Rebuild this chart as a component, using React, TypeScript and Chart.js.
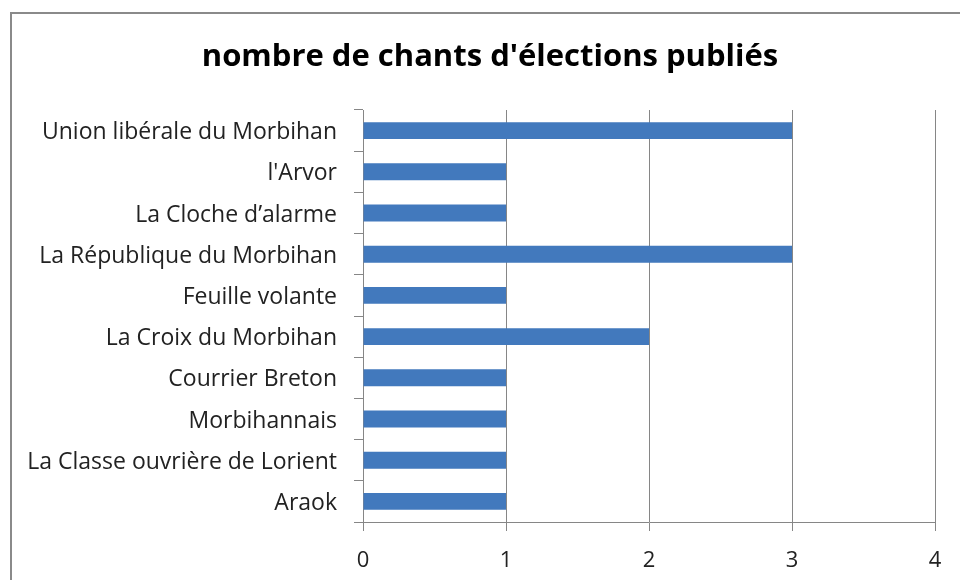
import React, { useEffect, useRef } from "react";
import { Chart, registerables } from "chart.js";

Chart.register(...registerables);

const categories = [
  "Union libérale du Morbihan",
  "l'Arvor",
  "La Cloche d’alarme",
  "La République du Morbihan",
  "Feuille volante",
  "La Croix du Morbihan",
  "Courrier Breton",
  "Morbihannais",
  "La Classe ouvrière de Lorient",
  "Araok",
];
const values = [3, 1, 1, 3, 1, 2, 1, 1, 1, 1];
const titleText = "nombre de chants d'élections publiés";
const xMin = 0;
const xMax = 4;

const titlePlugin = {
  id: "centeredTitle",
  afterDraw(chart: any) {
    const ctx = chart.ctx;
    ctx.save();
    ctx.font = "bold 31px 'Open Sans'";
    ctx.fillStyle = "#000";
    ctx.textAlign = "center";
    ctx.textBaseline = "alphabetic";
    ctx.fillText(titleText, 490, 66);
    ctx.restore();
  },
};

export default function App() {
  const ref = useRef<HTMLCanvasElement | null>(null);
  useEffect(() => {
    if (!ref.current) return;
    const chart = new Chart(ref.current, {
      type: "bar",
      data: {
        labels: categories,
        datasets: [
          {
            data: values,
            backgroundColor: "#4279bd",
            borderWidth: 0,
            categoryPercentage: 1,
            barPercentage: 0.41,
          },
        ],
      },
      plugins: [titlePlugin],
      options: {
        indexAxis: "y",
        animation: false,
        responsive: false,
        layout: { padding: { left: 0, right: 25, top: 110, bottom: 0 } },
        plugins: {
          legend: { display: false },
          tooltip: { enabled: false },
          title: { display: false },
        },
        scales: {
          x: {
            min: xMin,
            max: xMax,
            ticks: {
              stepSize: 1,
              color: "#222",
              font: { family: "Open Sans", size: 22 },
              padding: 17,
            },
            grid: {
              color: "#868686",
              lineWidth: 1,
              tickLength: 9,
              drawTicks: true,
            },
            border: { color: "#868686", width: 1 },
            afterFit: (s: any) => {
              s.height = 58;
            },
          },
          y: {
            ticks: {
              color: "#222",
              font: { family: "Open Sans", size: 23 },
              padding: 17,
              labelOffset: 2,
            },
            grid: {
              display: true,
              drawOnChartArea: false,
              color: "#868686",
              tickLength: 9,
            },
            border: { color: "#868686", width: 1 },
            afterFit: (s: any) => {
              s.width = 363;
            },
          },
        },
      },
    });
    return () => chart.destroy();
  }, []);
  return (
    <div style={{ position: "absolute", left: 0, top: 0, width: 960, height: 580, overflow: "hidden", background: "#fff" }}>
      <div
        style={{
          position: "absolute",
          left: 10,
          top: 12,
          width: 1000,
          height: 700,
          border: "2px solid #8a8a8a",
          boxSizing: "border-box",
        }}
      />
      <canvas ref={ref} width={960} height={580} style={{ position: "absolute", left: 0, top: 0 }} />
    </div>
  );
}
